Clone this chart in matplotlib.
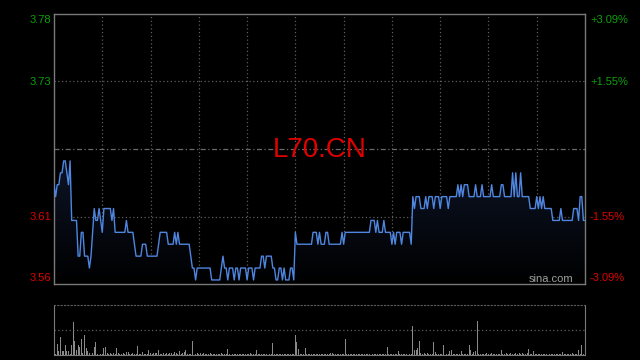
import numpy as np
import matplotlib
matplotlib.use('Agg')
import matplotlib.pyplot as plt
from matplotlib.patches import Polygon

# intraday minute prices (HK session, 330 minutes)
prices = [
    3.64, 3.63, 3.64, 3.64, 3.65, 3.65, 3.66, 3.66, 3.65, 3.64,
    3.66, 3.61, 3.61, 3.61, 3.61, 3.58, 3.58, 3.60, 3.60, 3.58,
    3.58, 3.58, 3.57, 3.58, 3.60, 3.62, 3.61, 3.61, 3.62, 3.61,
    3.60, 3.62, 3.62, 3.62, 3.62, 3.62, 3.61, 3.62, 3.60, 3.60,
    3.60, 3.60, 3.60, 3.60, 3.60, 3.61, 3.60, 3.60, 3.60, 3.60,
    3.59, 3.58, 3.58, 3.58, 3.58, 3.59, 3.59, 3.59, 3.58, 3.58,
    3.58, 3.58, 3.58, 3.58, 3.58, 3.59, 3.60, 3.60, 3.60, 3.60,
    3.60, 3.59, 3.59, 3.59, 3.59, 3.60, 3.59, 3.60, 3.59, 3.59,
    3.59, 3.59, 3.59, 3.59, 3.59, 3.58, 3.57, 3.57, 3.56, 3.57,
    3.57, 3.57, 3.57, 3.57, 3.57, 3.57, 3.57, 3.57, 3.56, 3.56,
    3.56, 3.56, 3.56, 3.56, 3.57, 3.58, 3.57, 3.57, 3.56, 3.57,
    3.57, 3.57, 3.56, 3.57, 3.57, 3.56, 3.57, 3.57, 3.57, 3.57,
    3.56, 3.57, 3.57, 3.57, 3.56, 3.57, 3.57, 3.57, 3.57, 3.58,
    3.58, 3.57, 3.58, 3.58, 3.58, 3.58, 3.57, 3.57, 3.56, 3.56,
    3.57, 3.57, 3.56, 3.57, 3.56, 3.56, 3.56, 3.57, 3.57, 3.56,
    3.60, 3.59, 3.59, 3.59, 3.59, 3.59, 3.59, 3.59, 3.59, 3.59,
    3.59, 3.60, 3.60, 3.60, 3.59, 3.60, 3.59, 3.59, 3.59, 3.60,
    3.60, 3.59, 3.59, 3.59, 3.59, 3.59, 3.59, 3.59, 3.59, 3.60,
    3.59, 3.60, 3.60, 3.60, 3.60, 3.60, 3.60, 3.60, 3.60, 3.60,
    3.60, 3.60, 3.60, 3.60, 3.60, 3.60, 3.60, 3.61, 3.61, 3.61,
    3.60, 3.61, 3.60, 3.60, 3.60, 3.61, 3.60, 3.60, 3.60, 3.60,
    3.59, 3.60, 3.59, 3.60, 3.60, 3.60, 3.59, 3.60, 3.60, 3.60,
    3.60, 3.60, 3.59, 3.63, 3.62, 3.63, 3.63, 3.63, 3.62, 3.62,
    3.62, 3.63, 3.62, 3.63, 3.63, 3.63, 3.62, 3.63, 3.63, 3.63,
    3.62, 3.63, 3.63, 3.63, 3.63, 3.62, 3.63, 3.63, 3.63, 3.63,
    3.63, 3.64, 3.63, 3.64, 3.63, 3.64, 3.64, 3.64, 3.63, 3.63,
    3.63, 3.63, 3.64, 3.63, 3.63, 3.63, 3.64, 3.63, 3.63, 3.63,
    3.63, 3.63, 3.64, 3.63, 3.63, 3.63, 3.63, 3.63, 3.64, 3.64,
    3.63, 3.63, 3.63, 3.63, 3.63, 3.65, 3.63, 3.65, 3.63, 3.63,
    3.65, 3.63, 3.63, 3.63, 3.63, 3.63, 3.62, 3.62, 3.62, 3.62,
    3.63, 3.62, 3.63, 3.62, 3.63, 3.62, 3.62, 3.62, 3.62, 3.62,
    3.61, 3.61, 3.61, 3.61, 3.61, 3.62, 3.61, 3.61, 3.61, 3.61,
    3.61, 3.61, 3.61, 3.62, 3.62, 3.62, 3.61, 3.63, 3.63, 3.61,
    3.61,
]

# minute volumes (relative units)
volumes = [
    7, 1, 11, 4, 18, 4, 4, 10, 4, 4,
    1, 10, 33, 14, 5, 10, 8, 16, 2, 20,
    7, 4, 2, 21, 2, 8, 13, 1, 0, 1,
    1, 7, 8, 2, 1, 2, 1, 2, 1, 7,
    2, 1, 1, 2, 1, 3, 3, 1, 1, 2,
    1, 1, 9, 1, 1, 3, 1, 1, 1, 5,
    2, 1, 2, 2, 2, 5, 1, 1, 2, 1,
    2, 1, 2, 2, 1, 3, 2, 1, 4, 1,
    2, 3, 5, 1, 1, 1, 14, 6, 1, 2,
    1, 2, 1, 2, 1, 1, 1, 2, 1, 1,
    1, 1, 1, 1, 2, 1, 1, 1, 6, 1,
    1, 1, 1, 1, 1, 1, 1, 1, 1, 1,
    1, 1, 2, 1, 1, 1, 5, 1, 1, 1,
    1, 1, 1, 1, 1, 1, 12, 1, 1, 1,
    1, 1, 1, 1, 1, 1, 1, 1, 1, 1,
    20, 13, 6, 1, 1, 1, 7, 1, 1, 1,
    1, 1, 1, 1, 1, 1, 1, 1, 1, 1,
    1, 1, 2, 2, 1, 1, 1, 1, 1, 1,
    1, 16, 1, 1, 1, 1, 1, 1, 1, 1,
    1, 1, 1, 1, 1, 1, 1, 1, 1, 1,
    1, 1, 1, 1, 1, 1, 1, 8, 1, 1,
    1, 1, 1, 1, 4, 1, 1, 1, 1, 1,
    1, 1, 1, 29, 5, 5, 7, 14, 2, 1,
    2, 1, 2, 1, 1, 1, 13, 3, 1, 1,
    1, 1, 10, 20, 1, 1, 4, 5, 1, 1,
    1, 1, 1, 4, 1, 1, 1, 1, 10, 5,
    1, 3, 4, 34, 1, 1, 1, 1, 1, 2,
    1, 1, 2, 1, 1, 1, 1, 1, 5, 1,
    1, 2, 1, 1, 2, 1, 1, 2, 1, 2,
    1, 2, 1, 1, 2, 6, 1, 1, 4, 1,
    1, 1, 1, 1, 1, 1, 1, 15, 1, 1,
    1, 1, 1, 1, 1, 1, 3, 1, 1, 1,
    1, 1, 2, 1, 1, 1, 5, 1, 10, 1,
    50,
]

prev_close = 3.67
pct_levels = [0.0309, 0.0155, -0.0155, -0.0309]
left_labels = ['3.78', '3.73', '3.61', '3.56']
right_labels = ['+3.09%', '+1.55%', '-1.55%', '-3.09%']
title = 'L70.CN'

n_min = 330
x = np.arange(len(prices))
prices = np.array(prices)
volumes = np.array(volumes)

W, H = 640, 360
fig = plt.figure(figsize=(6.4, 3.6), dpi=100, facecolor='black')

grid_c = '#5e5e5e'
border_c = '#7a7a7a'
green = '#0ca00c'
red = '#e00000'
line_c = '#4f86e0'

# main price panel
ax = fig.add_axes([54 / W, (H - 284) / H, 531 / W, 270 / H])
ax.set_facecolor('black')
lo = prev_close * (1 - 0.0309)
hi = prev_close * (1 + 0.0309)
ax.set_xlim(0, n_min)
ax.set_ylim(lo, hi)

for p in [0.0155, -0.0155]:
    ax.axhline(prev_close * (1 + p), color=grid_c, lw=0.9, ls=(0, (1, 2)), zorder=1)
ax.axhline(prev_close, color='#6a6a6a', lw=0.9, ls=(0, (4, 2, 1, 2)), zorder=1)
for k in range(1, 11):
    ax.axvline(k * 30, color=grid_c, lw=0.9, ls=(0, (1, 2)), zorder=1)

# gradient fill under the line
grad = np.linspace(0, 1, 256).reshape(-1, 1)
cmap = matplotlib.colors.LinearSegmentedColormap.from_list(
    'g', [(0, 0, 0), (0.05, 0.08, 0.15)])
im = ax.imshow(grad, cmap=cmap, aspect='auto', origin='lower',
               extent=[0, n_min, lo, prices.max()], zorder=2)
verts = [(x[0], lo)] + list(zip(x, prices)) + [(x[-1], lo)]
clip = Polygon(verts, closed=True, transform=ax.transData, facecolor='none', edgecolor='none')
ax.add_patch(clip)
im.set_clip_path(clip)

ax.plot(x, prices, color=line_c, lw=1.0, zorder=3)

ax.set_xticks([])
ax.set_yticks([])
for s in ax.spines.values():
    s.set_color(border_c)
    s.set_linewidth(1.0)

ax.text(0.5, 0.497, title, transform=ax.transAxes, ha='center', va='center',
        color=red, fontsize=20, family='Liberation Sans', zorder=4)
ax.text(0.978, 0.0, 'sina.com', transform=ax.transAxes, ha='right', va='bottom',
        color='#a0a0a0', fontsize=8, family='Liberation Sans', zorder=4)

# axis labels outside the panel
label_y = [20, 82, 217, 278]
for lab, rl, p, yy in zip(left_labels, right_labels, pct_levels, label_y):
    c = green if p > 0 else red
    fig.text(51 / W, 1 - yy / H, lab, ha='right', va='center', color=c,
             fontsize=8, family='Liberation Sans')
    fig.text(590 / W, 1 - yy / H, rl, ha='left', va='center', color=c,
             fontsize=8, family='Liberation Sans')

# volume panel
axv = fig.add_axes([54 / W, 5 / H, 531 / W, 50 / H])
axv.set_facecolor('black')
axv.bar(x, volumes, width=0.6, color='#8a8a8a', linewidth=0)
axv.set_xlim(0, n_min)
axv.set_ylim(0, volumes.max())
axv.axhline(volumes.max() / 2, color=grid_c, lw=0.9, ls=(0, (1, 2)))
axv.set_xticks([])
axv.set_yticks([])
for side in ['left', 'right', 'bottom']:
    axv.spines[side].set_color(border_c)
axv.spines['top'].set_color(grid_c)
axv.spines['top'].set_linestyle((0, (1, 2)))

fig.savefig('out.png', dpi=100, facecolor='black')
